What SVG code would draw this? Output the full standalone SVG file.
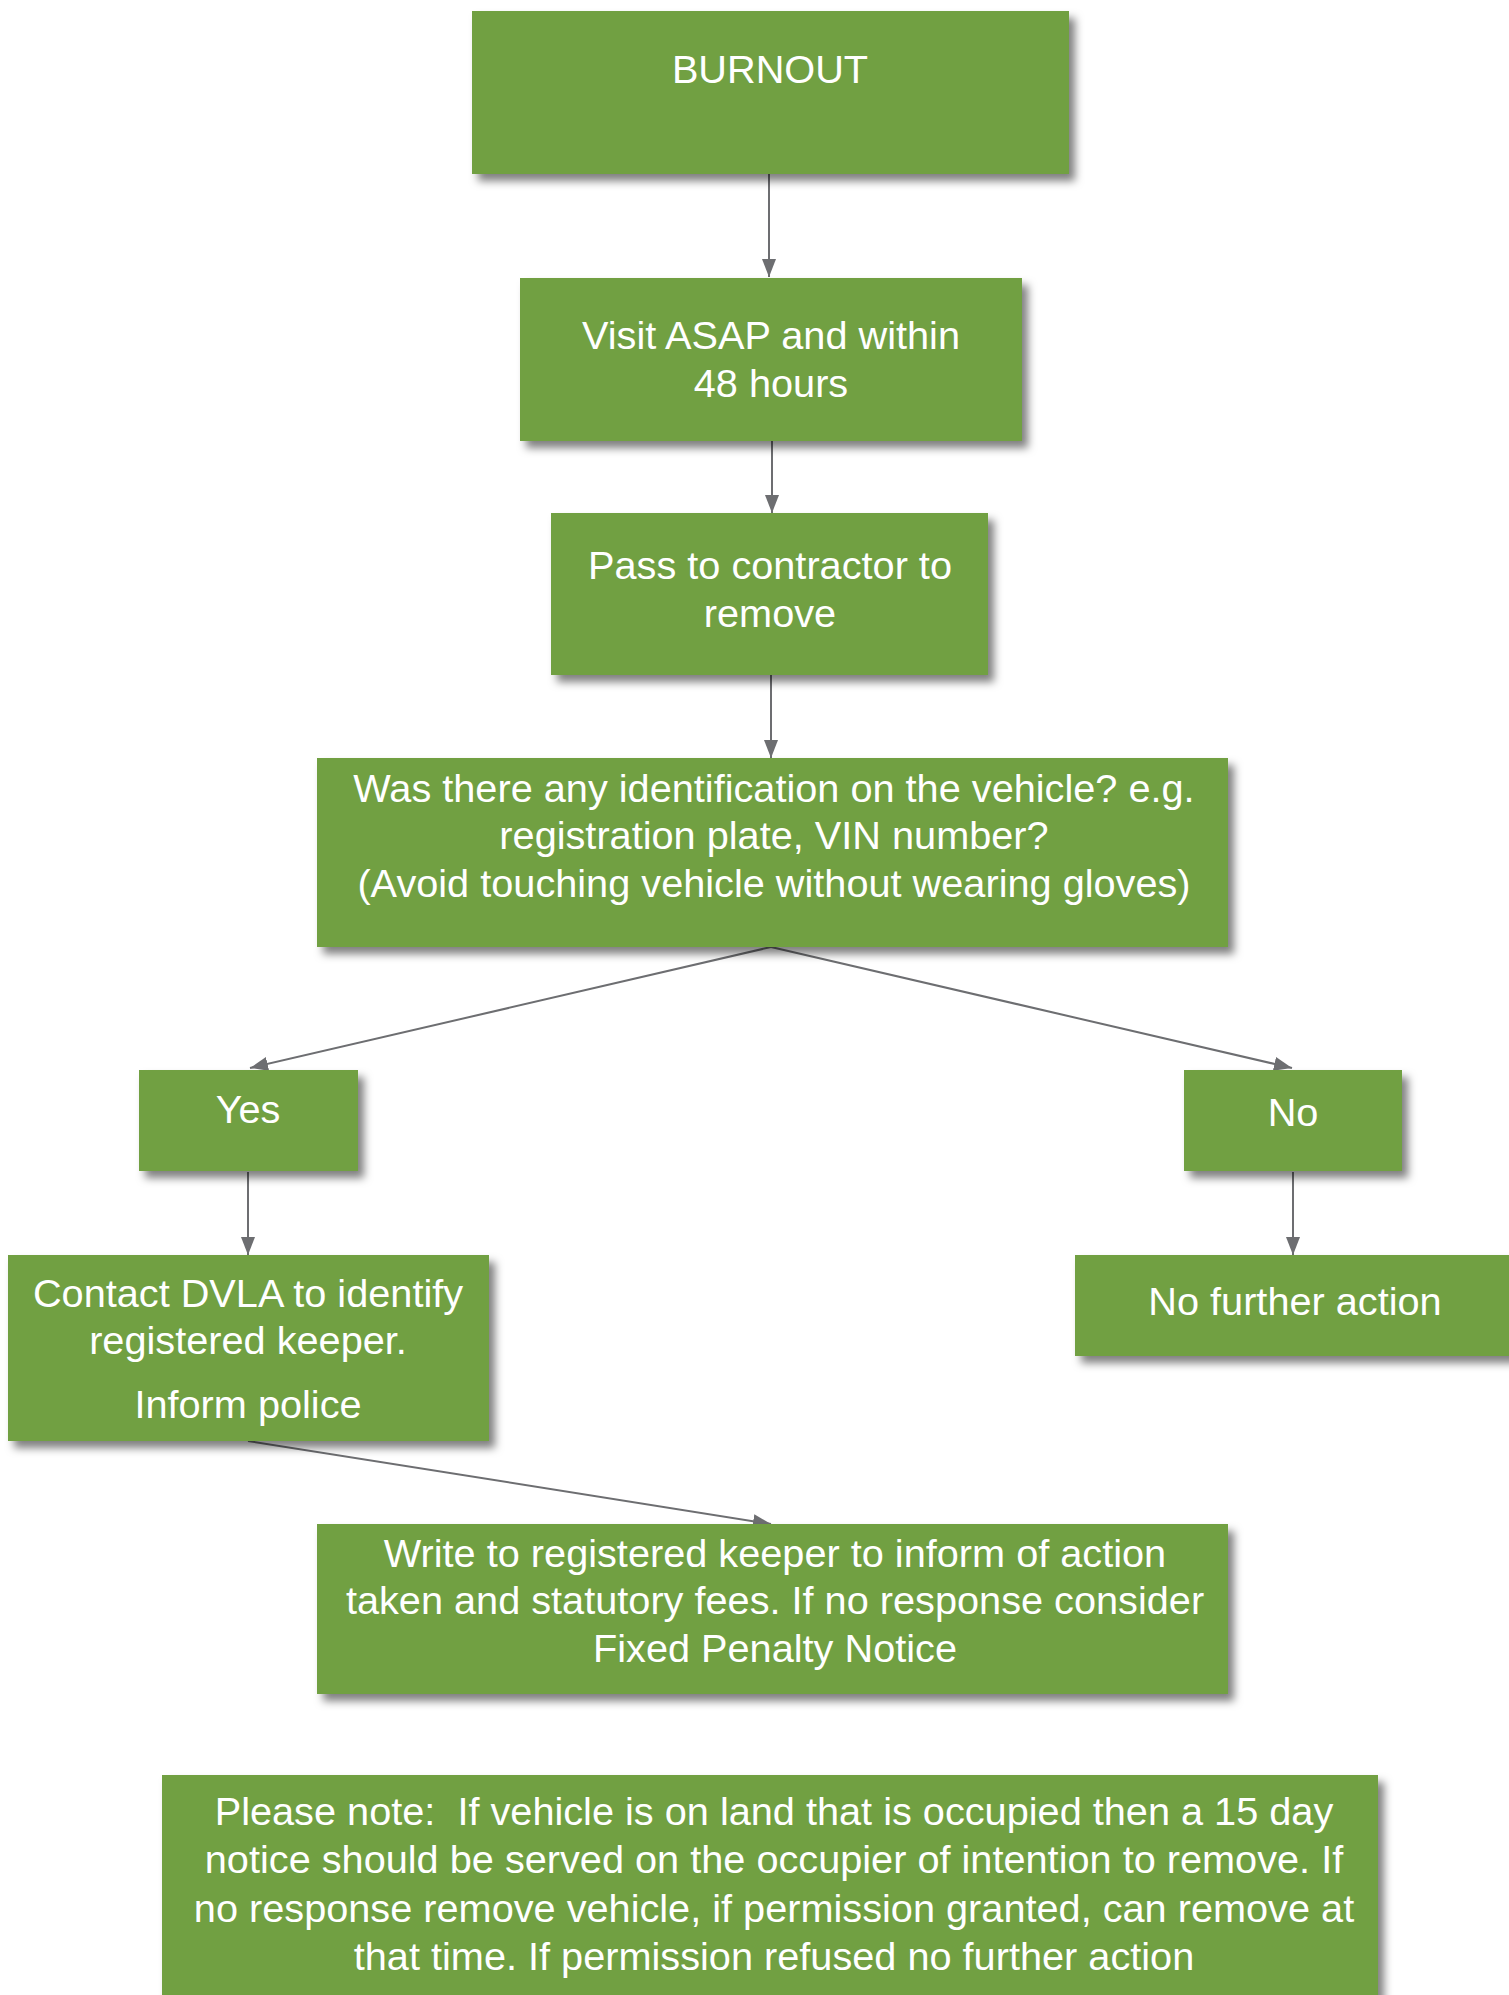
<svg xmlns="http://www.w3.org/2000/svg" width="1509" height="1995" viewBox="0 0 1509 1995">
<style>
.box{fill:#71A043;filter:url(#sh)}
.t{font-family:"Liberation Sans",Arial,sans-serif;font-size:39.7px;fill:#ffffff;text-anchor:middle;white-space:pre}
.c{stroke:#6D6E71;stroke-width:2;fill:none;marker-end:url(#ah)}
</style>
<defs>
<filter id="sh" x="-10%" y="-10%" width="125%" height="135%">
<feDropShadow dx="6" dy="7" stdDeviation="4" flood-color="#000" flood-opacity="0.5"/>
</filter>
<marker id="ah" markerUnits="userSpaceOnUse" markerWidth="20" markerHeight="16" refX="18" refY="7" orient="auto">
<path d="M0,0 L18,7 L0,14 Z" fill="#6D6E71"/>
</marker>
</defs>
<rect width="1509" height="1995" fill="#ffffff"/>
<g id="connectors">
<line class="c" x1="769" y1="174" x2="769" y2="277"/>
<line class="c" x1="772" y1="441" x2="772" y2="513"/>
<line class="c" x1="771" y1="675" x2="771" y2="758"/>
<line class="c" x1="771" y1="947" x2="250" y2="1068"/>
<line class="c" x1="771" y1="947" x2="1292" y2="1068"/>
<line class="c" x1="248" y1="1172" x2="248" y2="1255"/>
<line class="c" x1="1293" y1="1172" x2="1293" y2="1255"/>
<line class="c" x1="248" y1="1441" x2="771" y2="1524"/>
</g>
<g id="burnout">
<rect class="box" x="472" y="11" width="597" height="163"/>
<text class="t" x="770" y="83">BURNOUT</text>
</g>
<g id="visit">
<rect class="box" x="520" y="278" width="502" height="163"/>
<text class="t" x="771" y="349">Visit ASAP and within</text>
<text class="t" x="771" y="397">48 hours</text>
</g>
<g id="pass">
<rect class="box" x="551" y="513" width="437" height="162"/>
<text class="t" x="770" y="579">Pass to contractor to</text>
<text class="t" x="770" y="627">remove</text>
</g>
<g id="question">
<rect class="box" x="317" y="758" width="911" height="189"/>
<text class="t" x="774" y="802">Was there any identification on the vehicle? e.g.</text>
<text class="t" x="774" y="849">registration plate, VIN number?</text>
<text class="t" x="774" y="897">(Avoid touching vehicle without wearing gloves)</text>
</g>
<g id="yes">
<rect class="box" x="139" y="1070" width="219" height="101"/>
<text class="t" x="248" y="1123">Yes</text>
</g>
<g id="no">
<rect class="box" x="1184" y="1070" width="218" height="101"/>
<text class="t" x="1293" y="1126">No</text>
</g>
<g id="contact">
<rect class="box" x="8" y="1255" width="481" height="186"/>
<text class="t" x="248" y="1307">Contact DVLA to identify</text>
<text class="t" x="248" y="1354">registered keeper.</text>
<text class="t" x="248" y="1418">Inform police</text>
</g>
<g id="nofurther">
<rect class="box" x="1075" y="1255" width="440" height="101"/>
<text class="t" x="1295" y="1315">No further action</text>
</g>
<g id="write">
<rect class="box" x="317" y="1524" width="911" height="170"/>
<text class="t" x="775" y="1567">Write to registered keeper to inform of action</text>
<text class="t" x="775" y="1614">taken and statutory fees. If no response consider</text>
<text class="t" x="775" y="1662">Fixed Penalty Notice</text>
</g>
<g id="note">
<rect class="box" x="162" y="1775" width="1216" height="240"/>
<text class="t" x="774" y="1825">Please note:  If vehicle is on land that is occupied then a 15 day</text>
<text class="t" x="774" y="1873">notice should be served on the occupier of intention to remove. If</text>
<text class="t" x="774" y="1922">no response remove vehicle, if permission granted, can remove at</text>
<text class="t" x="774" y="1970">that time. If permission refused no further action</text>
</g>
</svg>
